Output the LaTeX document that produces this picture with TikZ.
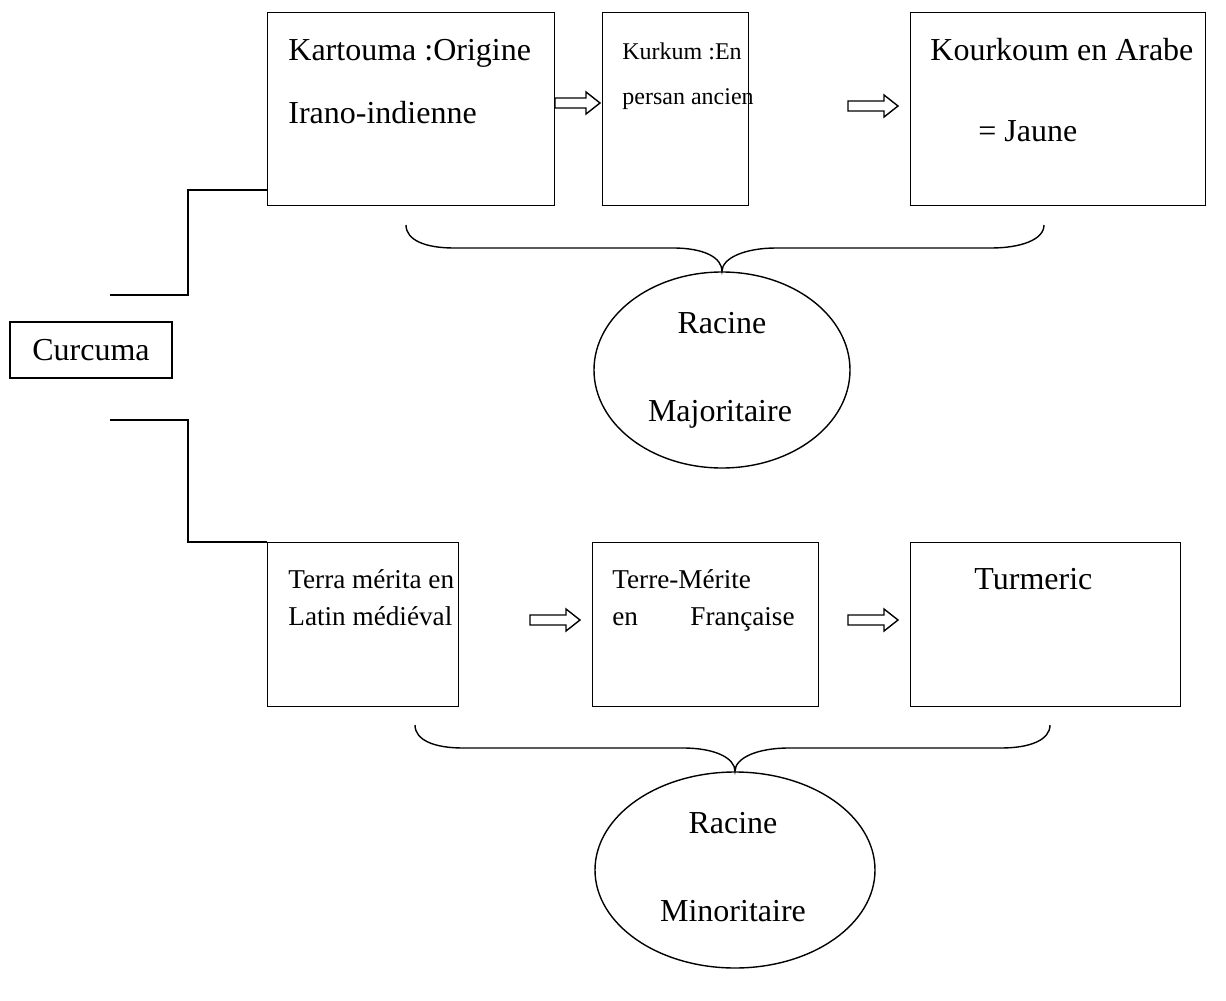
\documentclass[tikz,border=0pt]{standalone}
\usepackage{fontspec}
\setmainfont{Liberation Serif}
\usetikzlibrary{shapes.geometric}
\tikzset{
  boxs/.style={draw, line width=0.7pt, inner sep=0pt, rectangle},
  lbl/.style={inner sep=0pt, anchor=base west, font=\fontsize{16}{19}\selectfont},
  lblm/.style={lbl, font=\fontsize{12}{14}\selectfont},
  lbls/.style={lbl, font=\fontsize{13.6}{16}\selectfont},
  clbl/.style={inner sep=0pt, anchor=base, font=\fontsize{16}{19}\selectfont},
  ell/.style={draw, ellipse, line width=0.7pt, inner sep=0pt},
  conn/.style={line width=0.7pt},
  harrow/.style={line width=0.7pt, line join=miter},
}
\newcommand\boxat[5]{\node[boxs, minimum width=#4*0.5pt, minimum height=#5*0.5pt, anchor=north west] (#1) at (#2,#3) {};}
\begin{document}
\begin{tikzpicture}[x=0.5pt,y=-0.5pt]
\useasboundingbox (0,0) rectangle (1226,1001);
% top boxes
\boxat{b1}{267}{12}{287}{193}
\boxat{b2}{602}{12}{146}{193}
\boxat{b3}{910}{12}{295}{193}
% bottom boxes
\boxat{b4}{267}{542}{191}{164}
\boxat{b5}{592}{542}{226}{164}
\boxat{b6}{910}{542}{270}{164}
% curcuma
\node[boxs, minimum width=162*0.5pt, minimum height=56*0.5pt, font=\fontsize{16}{19}\selectfont] (cur) at (91,350) {Curcuma};
% texts
\node[lbl] (t1a) at (288,61) {Kartouma :Origine};
\node[lbl] (t1b) at (288,123) {Irano-indienne};
\node[lblm] (t2a) at (622,59) {Kurkum :En};
\node[lblm] (t2b) at (622,104) {persan ancien};
\node[lbl] (t3a) at (930,61) {Kourkoum en Arabe};
\node[lbl] (t3b) at (978,141) {= Jaune};
\node[lbls] (t4a) at (288,588) {Terra mérita en};
\node[lbls] (t4b) at (288,625) {Latin médiéval};
\node[lbls] (t5a) at (612,588) {Terre-Mérite};
\node[lbls] (t5b) at (612,625) {en};
\node[lbls] (t5c) at (690,625) {Française};
\node[lbl] (t6a) at (974,589) {Turmeric};
% ellipses
\node[ell, minimum width=256*0.5pt, minimum height=196*0.5pt] (e1) at (722,370) {};
\node[clbl] (e1a) at (722,333) {Racine};
\node[clbl] (e1b) at (720,421) {Majoritaire};
\node[ell, minimum width=280*0.5pt, minimum height=196*0.5pt] (e2) at (735,870) {};
\node[clbl] (e2a) at (733,833) {Racine};
\node[clbl] (e2b) at (733,921) {Minoritaire};
% connector lines
\coordinate (l1) at (110,295);
\coordinate (l2) at (110,420);
\draw[conn] (l1) -- (188,295) -- (188,190) -- (b1.west |- 0,190);
\draw[conn] (l2) -- (188,420) -- (188,542) -- (b4.north west);
% hollow arrows
\newcommand\harr[3]{\draw[harrow] (#1,#3) ++(0,-5) -- ++(#2-14,0) -- ++(0,-6) -- ++(14,11) -- ++(-14,11) -- ++(0,-6) -- ++(-#2+14,0) -- cycle;}
\harr{555}{45}{103}
\harr{848}{50}{106}
\harr{530}{50}{620}
\harr{848}{50}{620}
% braces
\draw[conn] (406,225) .. controls (406,240) and (425,248) .. (454,248) -- (673,248)
  .. controls (705,248) and (722,258) .. (e1.north)
  .. controls (722,258) and (745,248) .. (776,248) -- (991,248)
  .. controls (1020,248) and (1044,240) .. (1044,225);
\draw[conn] (415,725) .. controls (415,740) and (434,748) .. (463,748) -- (683,748)
  .. controls (715,748) and (735,758) .. (e2.north)
  .. controls (735,758) and (757,748) .. (789,748) -- (1001,748)
  .. controls (1030,748) and (1050,740) .. (1050,725);
\end{tikzpicture}
\end{document}
